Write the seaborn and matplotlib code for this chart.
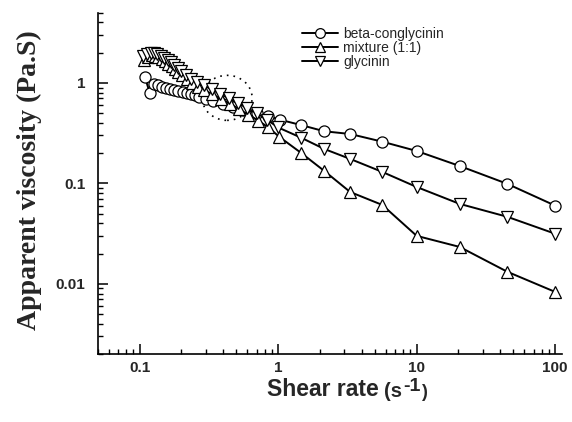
import numpy as np
import pandas as pd
import matplotlib
matplotlib.use("Agg")
import matplotlib.pyplot as plt
import seaborn as sns
from matplotlib.patches import Ellipse

# ---------------- data ----------------
beta_x = [0.109, 0.118, 0.126, 0.135, 0.145, 0.155, 0.166, 0.178, 0.19, 0.204, 0.218,
          0.234, 0.25, 0.27, 0.3, 0.34, 0.4, 0.47, 0.56, 0.7, 0.85, 1.03,
          1.47, 2.15, 3.31, 5.64, 10, 20.4, 45, 100]
beta_y = [1.15, 0.80, 0.97, 0.95, 0.92, 0.89, 0.87, 0.85, 0.83, 0.81, 0.79,
          0.77, 0.75, 0.72, 0.69, 0.66, 0.62, 0.58, 0.54, 0.50, 0.47, 0.43,
          0.38, 0.33, 0.31, 0.26, 0.21, 0.149, 0.099, 0.06]

mix_x = [0.108, 0.115, 0.122, 0.129, 0.136, 0.144, 0.152, 0.161, 0.17, 0.18, 0.19,
         0.203, 0.218, 0.238, 0.263, 0.293, 0.335, 0.385, 0.45, 0.52, 0.61, 0.72,
         0.85, 1.02, 1.47, 2.15, 3.31, 5.64, 10, 20.4, 45, 100]
mix_y = [1.7, 1.82, 1.88, 1.85, 1.8, 1.72, 1.64, 1.56, 1.47, 1.38, 1.29,
         1.2, 1.1, 1.0, 0.92, 0.85, 0.77, 0.69, 0.62, 0.55, 0.48, 0.42,
         0.36, 0.29, 0.20, 0.133, 0.082, 0.061, 0.030, 0.0233, 0.0132, 0.0083]

gly_x = [0.106, 0.113, 0.12, 0.127, 0.134, 0.142, 0.15, 0.159, 0.168, 0.178, 0.188,
         0.2, 0.215, 0.235, 0.26, 0.29, 0.33, 0.38, 0.44, 0.51, 0.6, 0.7,
         0.83, 1.0, 1.47, 2.15, 3.31, 5.64, 10, 20.4, 45, 100]
gly_y = [1.85, 1.95, 2.0, 1.98, 1.93, 1.86, 1.78, 1.69, 1.6, 1.5, 1.4,
         1.3, 1.2, 1.1, 1.02, 0.95, 0.86, 0.78, 0.7, 0.63, 0.56, 0.5,
         0.43, 0.36, 0.284, 0.22, 0.175, 0.13, 0.092, 0.0625, 0.0465, 0.0315]

labels = ["beta-conglycinin", "mixture (1:1)", "glycinin"]
x_ticks = [0.1, 1, 10, 100]
x_tick_labels = ["0.1", "1", "10", "100"]
y_ticks = [0.01, 0.1, 1]
y_tick_labels = ["0.01", "0.1", "1"]

# highlighted region (dotted ellipse) centre, data coords
circle_center = (0.428, 0.71)

# ---------------- style ----------------
sns.set_theme(style="white")
plt.rcParams["font.family"] = ["Liberation Sans", "DejaVu Sans"]

W, H = 572, 422
fig = plt.figure(figsize=(W / 100, H / 100), dpi=100)
fig.patch.set_facecolor("white")
ax = fig.add_axes([98 / W, 1 - 354 / H, (562 - 98) / W, (354 - 12.7) / H])
ax.set_facecolor("white")

series = [
    (labels[0], beta_x, beta_y, "o", 8),
    (labels[1], mix_x, mix_y, "^", 9),
    (labels[2], gly_x, gly_y, "v", 9),
]
for lab, xs, ys, mk, ms in series:
    df = pd.DataFrame({"x": xs, "y": ys})
    sns.lineplot(data=df, x="x", y="y", ax=ax, estimator=None, sort=False,
                 color="black", linewidth=1.4, marker=mk, markersize=ms,
                 markerfacecolor="white", markeredgecolor="black",
                 markeredgewidth=0.9, label=lab)

ax.set_xscale("log")
ax.set_yscale("log")
ax.set_xlim(0.05, 112)
ax.set_ylim(0.002, 5)

ax.set_xticks(x_ticks, labels=x_tick_labels, fontweight="bold", fontsize=11)
ax.set_yticks(y_ticks, labels=y_tick_labels, fontweight="bold", fontsize=11)
ax.xaxis.set_minor_locator(matplotlib.ticker.LogLocator(base=10, subs=np.arange(2, 10)))
ax.yaxis.set_minor_locator(matplotlib.ticker.LogLocator(base=10, subs=np.arange(2, 10)))
ax.xaxis.set_minor_formatter(matplotlib.ticker.NullFormatter())
ax.yaxis.set_minor_formatter(matplotlib.ticker.NullFormatter())
ax.tick_params(which="major", direction="in", length=7, width=1.1, color="black",
               left=True, bottom=True)
ax.tick_params(axis="x", which="major", pad=5)
ax.tick_params(axis="y", which="major", pad=9)
ax.tick_params(which="minor", direction="in", length=3.6, width=1.0, color="black",
               left=True, bottom=True)

for s in ["top", "right"]:
    ax.spines[s].set_visible(False)
for s in ["left", "bottom"]:
    ax.spines[s].set_color("black")
    ax.spines[s].set_linewidth(1.2)

ax.set_xlabel("")
ax.set_ylabel("")

# dotted ellipse
cx, cy = ax.transAxes.inverted().transform(ax.transData.transform(circle_center))
ell = Ellipse((cx, cy), 50 / 464, 45 / 341.3, transform=ax.transAxes, fill=False,
              edgecolor="black", linestyle=(0, (1, 3)), linewidth=1.2)
ax.add_patch(ell)

# legend
leg = ax.legend(loc="upper left", bbox_to_anchor=(302 / W, 1 - 27 / H),
                bbox_transform=fig.transFigure, frameon=False, fontsize=10,
                handlelength=2.6, handletextpad=0.35, borderpad=0,
                borderaxespad=0, labelspacing=0.0)
for h in leg.legend_handles:
    h.set_markersize(7)

# y label
fig.text(29 / W, 1 - 180.5 / H, "Apparent viscosity (Pa.S)", rotation=90,
         ha="center", va="center", fontsize=20, fontweight="bold",
         family=["Liberation Serif", "DejaVu Serif"])

# x label built from pieces
t1 = fig.text(267 / W, 1 - 396 / H, "Shear rate", fontsize=16.5, fontweight="bold",
              ha="left", va="baseline")
t2 = ax.annotate("(s", xy=(1, 0), xycoords=t1, xytext=(4, 0), textcoords="offset points",
                 fontsize=14.5, fontweight="bold", ha="left", va="bottom")
t3 = ax.annotate("-1", xy=(1, 0), xycoords=t2, xytext=(0.5, 4.5), textcoords="offset points",
                 fontsize=14, fontweight="bold", ha="left", va="bottom")
t4 = ax.annotate(")", xy=(1, 0), xycoords=t3, xytext=(0.5, -4.5), textcoords="offset points",
                 fontsize=13, fontweight="bold", ha="left", va="bottom")

fig.savefig("out.png", dpi=100, facecolor="white")
